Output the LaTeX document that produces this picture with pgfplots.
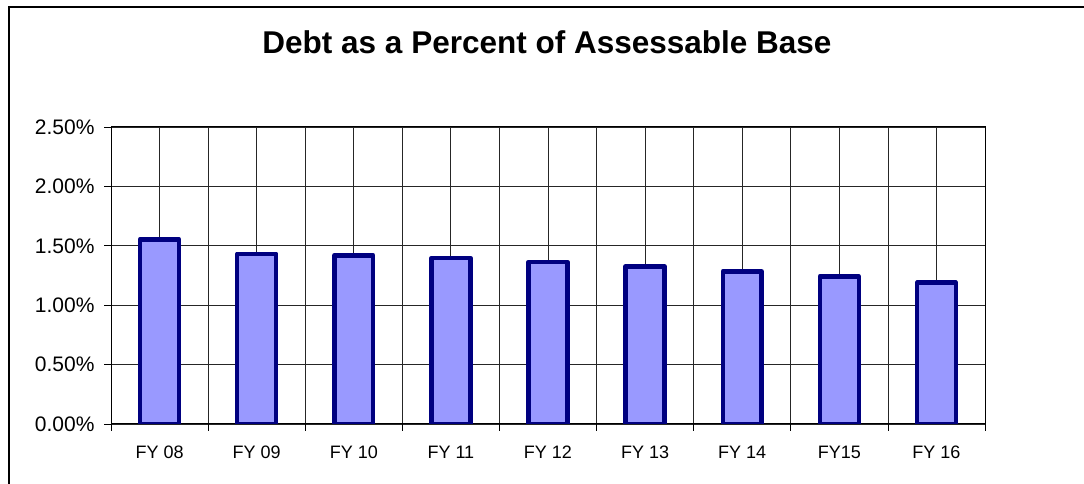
\documentclass[border=0pt]{standalone}
\usepackage{pgfplots}
\pgfplotsset{compat=1.18}
\usepackage{fontspec}
\setmainfont{Liberation Sans}
\definecolor{barfill}{HTML}{9999FF}
\definecolor{baredge}{HTML}{000080}
\begin{document}
\begin{tikzpicture}[x=1bp,y=1bp]
\useasboundingbox (0,0) rectangle (1084,484);
\draw[line width=1.2bp] (9,-2) -- (9,477) -- (1086,477);
\node[anchor=base, font=\fontsize{31.5bp}{36bp}\selectfont\bfseries] at (547,430) {Debt as a Percent of Assessable Base};
\begin{axis}[at={(111bp,60bp)}, anchor=south west, scale only axis,
  width=874bp, height=297bp,
  xmin=-0.5, xmax=8.5, ymin=0, ymax=2.5,
  xtick={0,1,2,3,4,5,6,7,8},
  xticklabels={FY 08,FY 09,FY 10,FY 11,FY 12,FY 13,FY 14,FY15,FY 16},
  minor xtick={-0.5,0.5,1.5,2.5,3.5,4.5,5.5,6.5,7.5,8.5},
  ytick={0,0.5,1,1.5,2,2.5},
  yticklabels={0.00\%,0.50\%,1.00\%,1.50\%,2.00\%,2.50\%},
  xtick pos=bottom, ytick pos=left,
  grid=both,
  major grid style={black!85, line width=0.8bp},
  minor grid style={black!85, line width=0.8bp},
  tick align=outside,
  major tick length=7bp, minor tick length=7bp,
  major x tick style={draw=none},
  tick style={black, line width=0.8bp},
  x tick label style={font=\fontsize{18bp}{20bp}\selectfont, anchor=base, yshift=-28bp},
  y tick label style={font=\fontsize{21bp}{24bp}\selectfont, xshift=-6bp},
  axis line style={black, line width=1bp},
]
\addplot[ybar, bar width=0.4, fill=barfill, draw=baredge, line width=4.5bp, line join=round] coordinates {
(0,1.555) (1,1.433) (2,1.420) (3,1.397) (4,1.364) (5,1.327) (6,1.285) (7,1.243) (8,1.189)};
\end{axis}
\end{tikzpicture}
\end{document}
